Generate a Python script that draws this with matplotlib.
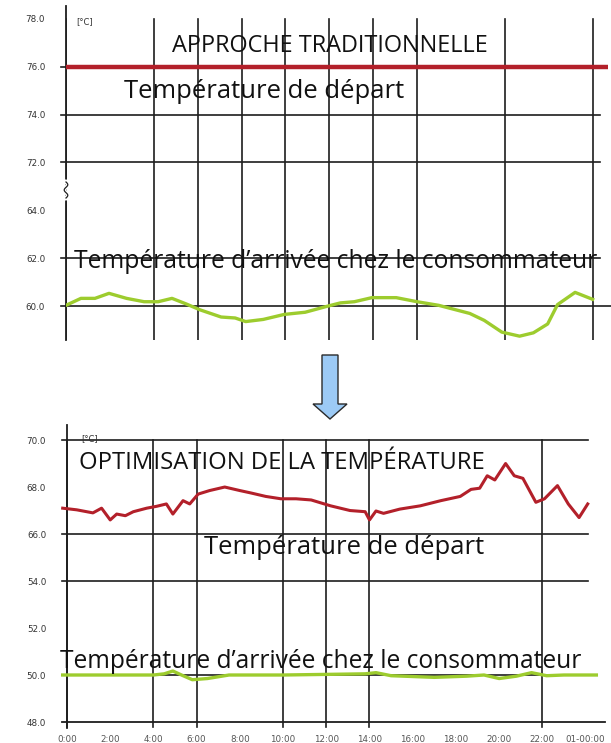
import numpy as np
import matplotlib
matplotlib.use("Agg")
import matplotlib.pyplot as plt
from matplotlib.patches import Polygon

# ---------------- data ----------------
top_red_hours = [0.0, 24.7]
top_red_temp = [76.0, 76.0]

top_green_hours = [0.0, 0.68, 1.32, 1.96, 2.76, 3.56, 4.2, 4.83, 5.47, 6.11, 7.07, 7.71, 8.19,
                   8.99, 9.95, 10.9, 11.86, 12.5, 13.14, 13.94, 15.05, 16.0, 16.98, 18.4, 19.06,
                   19.86, 20.67, 21.3, 21.95, 22.4, 23.2, 24.0]
top_green_temp = [60.03, 60.32, 60.32, 60.53, 60.32, 60.18, 60.18, 60.32, 60.09, 59.84, 59.54, 59.5,
                  59.35, 59.44, 59.65, 59.74, 59.98, 60.13, 60.18, 60.35, 60.35, 60.18, 60.03, 59.69,
                  59.4, 58.91, 58.74, 58.88, 59.25, 60.06, 60.57, 60.28]

bot_red_hours = [-0.2, 0.45, 1.2, 1.6, 2.0, 2.3, 2.7, 3.07, 3.69, 4.15, 4.6, 4.9, 5.37, 5.68, 6.07,
                 6.6, 7.3, 8.0, 8.5, 9.2, 9.9, 10.6, 11.3, 12.2, 13.1, 13.8, 14.0, 14.3, 14.65,
                 15.4, 16.35, 17.3, 18.2, 18.7, 19.1, 19.45, 19.8, 20.3, 20.7, 21.1, 21.7, 22.1,
                 22.7, 23.2, 23.7, 24.1]
bot_red_temp = [67.1, 67.03, 66.9, 67.1, 66.6, 66.85, 66.78, 66.95, 67.1, 67.18, 67.28, 66.85, 67.42,
                67.28, 67.7, 67.85, 68.0, 67.85, 67.75, 67.6, 67.5, 67.5, 67.45, 67.2, 67.0, 66.95,
                66.6, 66.98, 66.88, 67.06, 67.2, 67.42, 67.6, 67.9, 67.95, 68.48, 68.3, 69.0, 68.48,
                68.37, 67.35, 67.5, 68.06, 67.28, 66.7, 67.28]

bot_green_hours = [-0.2, 2.0, 4.0, 4.5, 4.9, 5.3, 5.8, 6.5, 7.5, 10.0, 13.8, 14.3, 15.0, 17.0, 18.5,
                   19.3, 20.0, 20.8, 21.5, 22.2, 23.0, 24.5]
bot_green_temp = [50.0, 50.0, 50.0, 50.05, 50.17, 50.0, 49.8, 49.85, 50.0, 50.0, 50.05, 50.1, 49.97,
                  49.9, 49.95, 50.0, 49.85, 49.95, 50.1, 49.97, 50.0, 50.0]

top_yticks = [78.0, 76.0, 74.0, 72.0, 64.0, 62.0, 60.0]
top_grid_y = [76.0, 74.0, 72.0, 62.0]
top_grid_x = [0, 4, 6, 8, 10, 12, 14, 16, 20, 24]

bot_yticks = [70.0, 68.0, 66.0, 54.0, 52.0, 50.0, 48.0]
bot_grid_y = [70.0, 66.0, 54.0, 50.0]
bot_grid_x = [0, 4, 6, 10, 12, 14, 22]
bot_xticks = list(range(0, 25, 2))
bot_xlabels = ["0:00", "2:00", "4:00", "6:00", "8:00", "10:00", "12:00", "14:00", "16:00",
               "18:00", "20:00", "22:00", "01-00:00"]

# ---------------- style ----------------
W, H = 611, 743
RED = "#b3202a"
GREEN = "#9dcc2e"
GRID = "#1e1e1e"
FONT = "Open Sans"

fig = plt.figure(figsize=(W / 100, H / 100), dpi=100)


def rect(l, t, r, b):
    return [l / W, 1 - b / H, (r - l) / W, (b - t) / H]


def make_scale(src, dst):
    def fwd(v):
        return np.interp(v, src, dst)

    def inv(p):
        return np.interp(p, dst, src)
    return fwd, inv


def base(ax, ticks):
    for s in ["top", "right", "bottom"]:
        ax.spines[s].set_visible(False)
    ax.spines["left"].set_color(GRID)
    ax.spines["left"].set_linewidth(1.3)
    ax.set_yticks(ticks)
    ax.set_yticklabels([f"{t:.1f}" for t in ticks], fontsize=6.3, color="#333333",
                       family="DejaVu Sans")
    ax.tick_params(axis="y", length=0, pad=15)
    ax.set_facecolor("none")


# ---- top chart ----
ax1 = fig.add_axes(rect(66, 6, 608, 340))
f1, i1 = make_scale([0, 64, 72, 100], [-30, 2, 3, 17])
ax1.set_yscale("function", functions=(f1, i1))
ax1.set_xlim(0, 24.7)
ax1.set_ylim(i1(-0.71), i1(6.27))
base(ax1, top_yticks)
ax1.set_xticks([])
ext = 5 / 542
for v in top_grid_y:
    ax1.axhline(v, xmin=-ext, xmax=0.985, color=GRID, lw=1.2, clip_on=False, zorder=1)
ax1.axhline(60.0, xmin=-ext, xmax=1.006, color=GRID, lw=1.2, clip_on=False, zorder=1)
y78 = (f1(78.0) - (-0.71)) / (6.27 + 0.71)
for h in top_grid_x:
    ax1.axvline(h, ymin=0, ymax=y78, color=GRID, lw=1.2, zorder=1)
ax1.plot(top_red_hours, top_red_temp, color=RED, lw=3.2, zorder=3, solid_capstyle="butt",
         clip_on=False)
ax1.plot(top_green_hours, top_green_temp, color=GREEN, lw=2.4, zorder=3)

# ---- bottom chart ----
ax2 = fig.add_axes(rect(67, 425, 605, 722))
f2, i2 = make_scale([0, 54, 66, 100], [-24, 3, 4, 21])
ax2.set_yscale("function", functions=(f2, i2))
ax2.set_xlim(0, 24.9)
ax2.set_ylim(48.0, i2(6.32))
base(ax2, bot_yticks)
ax2.spines["left"].set_bounds(i2(-0.12), i2(6.32))
ax2.spines["bottom"].set_visible(True)
ax2.spines["bottom"].set_color(GRID)
ax2.spines["bottom"].set_linewidth(1.3)
ax2.spines["bottom"].set_bounds(-0.25, 24.9)
ext2 = 5 / 538
for v in bot_grid_y:
    ax2.axhline(v, xmin=-ext2, xmax=0.968, color=GRID, lw=1.2, clip_on=False, zorder=1)
y70 = f2(70.0) / 6.32
for h in bot_grid_x:
    ax2.axvline(h, ymin=-0.018, ymax=y70, color=GRID, lw=1.2, zorder=1, clip_on=False)
ax2.set_xticks(bot_xticks)
ax2.set_xticklabels(bot_xlabels, fontsize=6.3, color="#555555", family="DejaVu Sans")
ax2.tick_params(axis="x", length=0, pad=9)
ax2.plot(bot_red_hours, bot_red_temp, color=RED, lw=2.2, zorder=3, clip_on=False)
ax2.plot(bot_green_hours, bot_green_temp, color=GREEN, lw=2.4, zorder=3, clip_on=False)

# ---- overlay for texts and arrow (pixel coordinates) ----
ov = fig.add_axes([0, 0, 1, 1])
ov.set_xlim(0, W)
ov.set_ylim(H, 0)
ov.axis("off")
ov.set_facecolor("none")

ov.text(76, 22, "[°C]", fontsize=6, color="#333333", ha="left", va="center", family="DejaVu Sans")
ov.text(81, 439, "[°C]", fontsize=6, color="#333333", ha="left", va="center", family="DejaVu Sans")

# axis-break squiggle on the top chart's axis
sy = np.linspace(182, 198, 30)
ov.plot(66 + 1.8 * np.sin((sy - 182) / 16 * 3 * np.pi), sy, color="white", lw=3, zorder=4)
ov.plot(66 + 1.8 * np.sin((sy - 182) / 16 * 3 * np.pi), sy, color=GRID, lw=0.9, zorder=5)

# (left, right, centre y, text) in pixels
labels = [
    (172, 488, 46, "APPROCHE TRADITIONNELLE"),
    (118, 410, 91, "Température de départ"),
    (73, 598, 262, "Température d’arrivée chez le consommateur"),
    (80, 483, 463, "OPTIMISATION DE LA TEMPÉRATURE"),
    (198, 490, 548, "Température de départ"),
    (60, 582, 662, "Température d’arrivée chez le consommateur"),
]
renderer = fig.canvas.get_renderer()
sizes = []
texts = []
for l, r, yc, s in labels:
    t = ov.text((l + r) / 2, yc, s, family=FONT, color="#111111", ha="center", va="center",
                zorder=5, fontsize=16)
    w = t.get_window_extent(renderer).width
    sizes.append(16 * (r - l) / w)
    texts.append(t)
# the "départ" labels share a size between their fitted size and the arrival label size
for i in (1, 4):
    sizes[i] = 0.5 * sizes[i] + 0.5 * sizes[i + 1]
for t, fs in zip(texts, sizes):
    t.set_fontsize(fs)

arrow = Polygon([[322, 355], [338, 355], [338, 404], [347, 404], [330, 419], [313, 404],
                 [322, 404]], closed=True, facecolor="#9ccaf5", edgecolor="#2a2a2a", lw=1.0)
ov.add_patch(arrow)

fig.savefig("out.png", dpi=100)
